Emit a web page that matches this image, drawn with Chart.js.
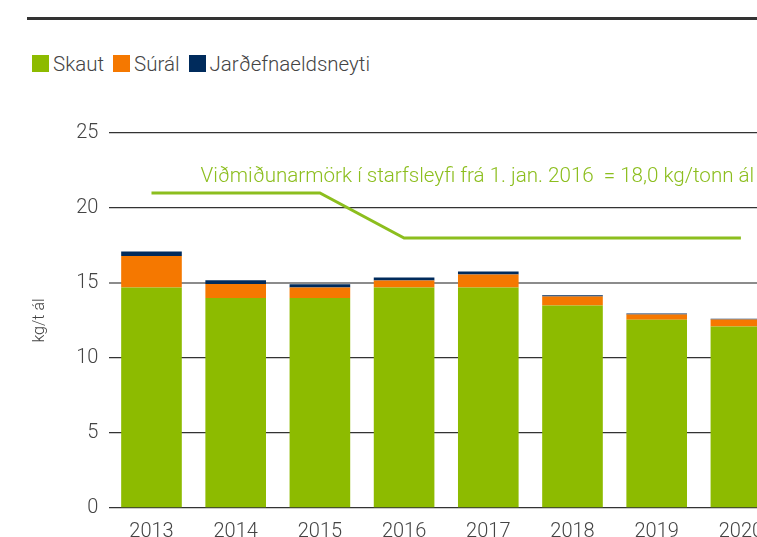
<!DOCTYPE html>
<html>
<head>
<meta charset="utf-8">
<script src="https://cdn.jsdelivr.net/npm/chart.js@4/dist/chart.umd.min.js"></script>
<style>
  html, body { margin: 0; padding: 0; background: #fff; overflow: hidden; width: 757px; height: 537px; }
  #topline { position: absolute; left: 27px; top: 17px; width: 740px; height: 3px; background: #333; }
  #legend { position: absolute; left: 32px; top: 52px; font-family: Roboto, sans-serif; font-weight: 300; font-size: 20.5px; color: #444; white-space: nowrap; }
  #legend span.item { display: inline-block; margin-right: 9px; }
  #legend i { display: inline-block; width: 17px; height: 17px; vertical-align: -1px; margin-right: 4px; }
  #wrap { position: absolute; left: 0; top: 0; width: 800px; height: 550px; }
</style>
</head>
<body>
<div id="topline"></div>
<div id="legend"></div>
<div id="wrap"><canvas id="chart"></canvas></div>
<script>
// data (kg per tonne aluminium)
const years = ['2013', '2014', '2015', '2016', '2017', '2018', '2019', '2020'];
const skaut = [14.7, 14.0, 14.0, 14.7, 14.7, 13.5, 12.55, 12.1];
const sural = [2.1, 0.93, 0.7, 0.47, 0.87, 0.6, 0.35, 0.47];
const jardefni = [0.3, 0.25, 0.22, 0.2, 0.2, 0.08, 0.07, 0.04];
const limit = [21, 21, 21, 18, 18, 18, 18, 18];
const yTicks = [0, 5, 10, 15, 20, 25];
const limitText = 'Viðmiðunarmörk í starfsleyfi frá 1. jan. 2016  = 18,0 kg/tonn ál';

const GREEN = '#8dbb00';
const ORANGE = '#f57800';
const NAVY = '#002b5c';
const LIMIT_GREEN = '#8cbe1e';
const FONT = 'Roboto, sans-serif';

// html legend
const legendItems = [['Skaut', GREEN], ['Súrál', ORANGE], ['Jarðefnaeldsneyti', NAVY]];
document.getElementById('legend').innerHTML = legendItems
  .map(([t, c]) => `<span class="item"><i style="background:${c}"></i>${t}</span>`)
  .join('');

const limitLabel = {
  id: 'limitLabel',
  afterDatasetsDraw(chart) {
    const {ctx, scales: {x, y}} = chart;
    ctx.save();
    ctx.font = '300 20.6px ' + FONT;
    ctx.fillStyle = LIMIT_GREEN;
    ctx.textBaseline = 'middle';
    ctx.fillText(limitText, x.getPixelForValue(0) + 49, y.getPixelForValue(22.1));
    ctx.restore();
  }
};

new Chart(document.getElementById('chart'), {
  type: 'bar',
  data: {
    labels: years,
    datasets: [
      { type: 'line', label: 'limit', data: limit, borderColor: LIMIT_GREEN, borderWidth: 3,
        pointRadius: 0, tension: 0, fill: false, order: 0 },
      { label: 'Skaut', data: skaut, backgroundColor: GREEN, order: 1 },
      { label: 'Súrál', data: sural, backgroundColor: ORANGE, order: 1 },
      { label: 'Jarðefnaeldsneyti', data: jardefni, backgroundColor: NAVY, order: 1 }
    ]
  },
  options: {
    responsive: true,
    maintainAspectRatio: false,
    animation: false,
    layout: { padding: { top: 133, left: 26, right: 17, bottom: 2 } },
    plugins: { legend: { display: false }, tooltip: { enabled: false } },
    scales: {
      x: {
        stacked: true,
        grid: { display: false },
        border: { display: false },
        ticks: { color: '#444', font: { family: FONT, size: 20, weight: 300 }, padding: 4 }
      },
      y: {
        stacked: true,
        min: 0,
        max: 25,
        afterBuildTicks: (scale) => { scale.ticks = yTicks.map(v => ({ value: v })); },
        border: { display: false },
        grid: {
          drawTicks: false,
          color: (c) => c.tick && c.tick.value === 15 ? '#8c8c8c' : '#333',
          lineWidth: (c) => c.tick && c.tick.value === 15 ? 2 : 1.3
        },
        ticks: { color: '#444', font: { family: FONT, size: 20, weight: 300 }, padding: 11 },
        title: { display: true, text: 'kg/t ál', color: '#444',
          font: { family: FONT, size: 16, weight: 300 }, padding: { top: 4, bottom: 16 } }
      }
    }
  },
  plugins: [limitLabel]
});
</script>
</body>
</html>
